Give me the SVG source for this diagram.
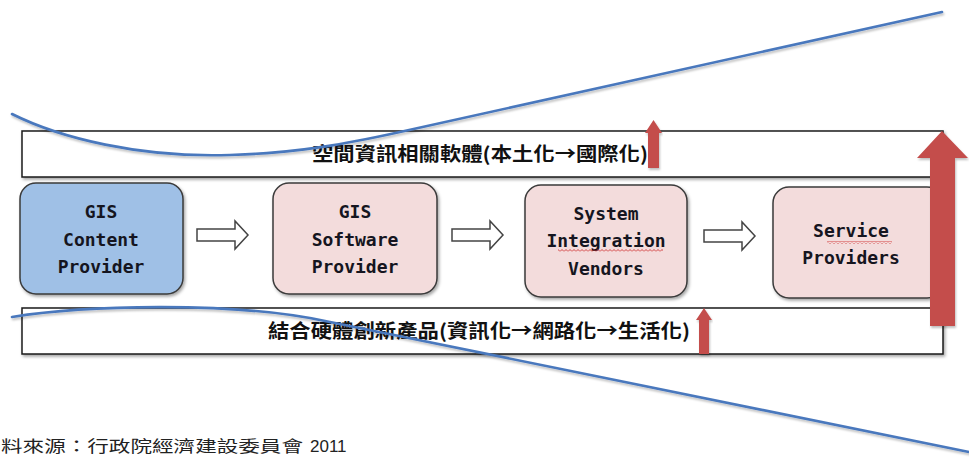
<svg xmlns="http://www.w3.org/2000/svg" width="969" height="459" viewBox="0 0 969 459">
<style>
.band{fill:#ffffff;stroke:#1a1a1a;stroke-width:1.5}
.node{stroke:#3a3a3a;stroke-width:1.5}
.blue{fill:#9fc0e6}
.pink{fill:#f3dcdc}
.ntxt{font-family:"DejaVu Sans Mono","Liberation Mono",monospace;font-weight:bold;font-size:18px;fill:#151520;text-anchor:middle}
.btxt{font-family:"Noto Sans CJK TC","Noto Sans CJK SC",sans-serif;font-weight:bold;font-size:19px;fill:#111}
.blk{fill:#ffffff;stroke:#444;stroke-width:1.5;stroke-linejoin:miter}
.red{fill:#c44e4c}
.curve{fill:none;stroke:#4a78bd;stroke-width:2.6;stroke-linecap:round}
.src{font-family:"Noto Sans CJK TC","Noto Sans CJK SC",sans-serif;font-size:16px;fill:#222}
</style>
<defs>
<filter id="sh" x="-5%" y="-10%" width="110%" height="130%">
<feDropShadow dx="1.5" dy="2" stdDeviation="1.5" flood-color="#000" flood-opacity="0.35"/>
</filter>
<filter id="lsh" x="-5%" y="-20%" width="110%" height="140%">
<feDropShadow dx="1" dy="2" stdDeviation="1.2" flood-color="#000" flood-opacity="0.25"/>
</filter>
<pattern id="wavy" width="4" height="3" patternUnits="userSpaceOnUse">
<polyline points="0,2.5 2,0.5 4,2.5" fill="none" stroke="#d03030" stroke-width="0.9"/>
</pattern>
<path id="blkarrow" d="M0 -6 L38 -6 L38 -14 L51 0 L38 14 L38 6 L0 6 Z"/>
</defs>
<rect width="969" height="459" fill="#ffffff"/>

<g id="top-band">
<rect class="band" x="22" y="131" width="921" height="46" filter="url(#sh)"/>
<text class="btxt" x="480" y="161" text-anchor="middle" textLength="336" lengthAdjust="spacingAndGlyphs">空間資訊相關軟體(本土化→國際化)</text>
</g>

<g id="bottom-band">
<rect class="band" x="22" y="308" width="921" height="46" filter="url(#sh)"/>
<text class="btxt" x="479" y="338" text-anchor="middle" textLength="422" lengthAdjust="spacingAndGlyphs">結合硬體創新產品(資訊化→網路化→生活化)</text>
</g>

<g id="node-gis-content">
<rect class="node blue" x="20" y="183" width="163" height="111" rx="16" filter="url(#sh)"/>
<text class="ntxt" x="101" y="218">GIS</text>
<text class="ntxt" x="101" y="246">Content</text>
<text class="ntxt" x="101" y="273">Provider</text>
</g>

<g id="node-gis-software">
<rect class="node pink" x="273" y="183" width="164" height="111" rx="16" filter="url(#sh)"/>
<text class="ntxt" x="355" y="218">GIS</text>
<text class="ntxt" x="355" y="246">Software</text>
<text class="ntxt" x="355" y="273">Provider</text>
</g>

<g id="node-system-integration">
<rect class="node pink" x="525" y="185" width="162" height="112" rx="16" filter="url(#sh)"/>
<text class="ntxt" x="606" y="220">System</text>
<text class="ntxt" x="606" y="247">Integration</text>
<text class="ntxt" x="606" y="275">Vendors</text>
<rect x="558" y="249" width="105" height="3" fill="url(#wavy)"/>
</g>

<g id="node-service-providers">
<rect class="node pink" x="773" y="187" width="170" height="111" rx="16" filter="url(#sh)"/>
<text class="ntxt" x="851" y="237">Service</text>
<text class="ntxt" x="851" y="264">Providers</text>
<rect x="827" y="241" width="65" height="3" fill="url(#wavy)"/>
</g>

<g id="connectors">
<use href="#blkarrow" class="blk" transform="translate(197 235)"/>
<use href="#blkarrow" class="blk" transform="translate(452 235)"/>
<use href="#blkarrow" class="blk" transform="translate(704 236)"/>
</g>

<g id="growth-arrows">
<path class="red" d="M648 168 L648 133 L645 133 L653.5 120 L662 133 L659 133 L659 168 Z" filter="url(#lsh)"/>
<path class="red" d="M699 354 L699 320 L696 320 L704 308 L712 320 L709 320 L709 354 Z" filter="url(#lsh)"/>
<path class="red" d="M930 326 L930 158 L917 158 L942 131 L968 158 L955 158 L955 326 Z" filter="url(#lsh)"/>
</g>

<g id="trend-curves">
<path class="curve" d="M12 114 C60 138 140 158 230 155 C300 153 350 143 400 132 L942 12" filter="url(#lsh)"/>
<path class="curve" d="M12 317 C80 306 230 300 330 322 L969 452" filter="url(#lsh)"/>
</g>

<g id="source">
<text class="src" x="1" y="452" textLength="302" lengthAdjust="spacingAndGlyphs">料來源：行政院經濟建設委員會</text>
<text class="src" x="310" y="452" style="font-family:'Liberation Sans',sans-serif;font-size:17px">2011</text>
</g>
</svg>
